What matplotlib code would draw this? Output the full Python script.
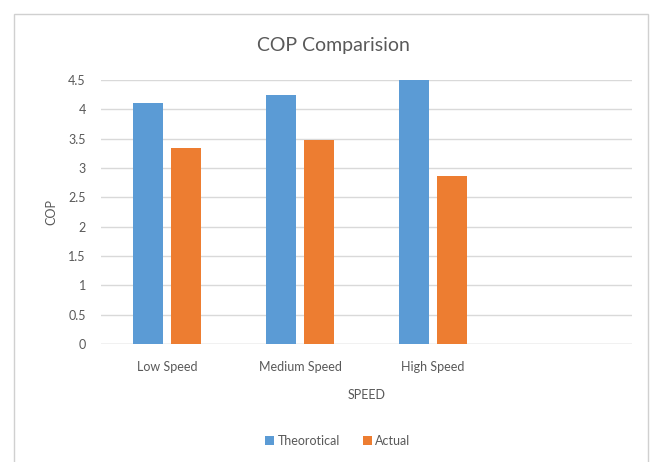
import matplotlib

matplotlib.use("Agg")
import matplotlib.pyplot as plt
import numpy as np

plt.rcParams["font.family"] = ["Lato", "DejaVu Sans"]

categories = ["Low Speed", "Medium Speed", "High Speed", ""]
theoretical = [4.11, 4.24, 4.50, np.nan]
actual = [3.34, 3.47, 2.87, np.nan]
y_ticks = [0, 0.5, 1, 1.5, 2, 2.5, 3, 3.5, 4, 4.5]
y_tick_labels = ["0", "0.5", "1", "1.5", "2", "2.5", "3", "3.5", "4", "4.5"]

BLUE = "#5B9BD5"
ORANGE = "#ED7D31"
TEXT = "#595959"
GRID = "#D9D9D9"

W, H = 658, 462
fig = plt.figure(figsize=(W / 100, H / 100), dpi=100)

# rectangle around the chart, like Excel's chart area
fig.patches.append(
    plt.Rectangle((14 / W, -0.05), (648 - 14) / W, 1.05 - 14 / H,
                  transform=fig.transFigure, facecolor="none",
                  edgecolor="#D0D0D0", linewidth=1.0)
)

ax = fig.add_axes((101 / W, 1 - 344 / H, (632 - 101) / W, (344 - 80) / H))

x = np.arange(len(categories))
bw = 0.226
gap = 0.06
ax.bar(x - (bw + gap) / 2, theoretical, bw, color=BLUE, label="Theorotical", zorder=3)
ax.bar(x + (bw + gap) / 2, actual, bw, color=ORANGE, label="Actual", zorder=3)

ax.set_xlim(-0.5, len(categories) - 0.5)
ax.set_ylim(0, 4.5)
ax.set_yticks(y_ticks)
ax.set_yticklabels(y_tick_labels)
ax.set_xticks(x)
ax.set_xticklabels(categories)
ax.tick_params(axis="both", length=0, labelsize=9, colors=TEXT)
ax.tick_params(axis="y", pad=11)
ax.tick_params(axis="x", pad=12)

ax.grid(axis="y", color=GRID, linewidth=1.0, zorder=0)
for s in ax.spines.values():
    s.set_visible(False)
ax.axhline(0, color=GRID, linewidth=1.0, zorder=2)

ax.set_xlabel("SPEED", fontsize=9, color=TEXT, labelpad=12)
ax.set_ylabel("COP", fontsize=9, color=TEXT, labelpad=8)

fig.text(333 / W, 1 - 45 / H, "COP Comparision", ha="center",
         va="center", fontsize=14, color=TEXT)

fig.legend(loc="center", bbox_to_anchor=(338 / W, 1 - 441 / H), ncol=2,
           frameon=False, fontsize=9, handlelength=0.7, handleheight=0.7,
           handletextpad=0.3, columnspacing=1.8, labelcolor=TEXT)

fig.savefig("out.png", dpi=100)
